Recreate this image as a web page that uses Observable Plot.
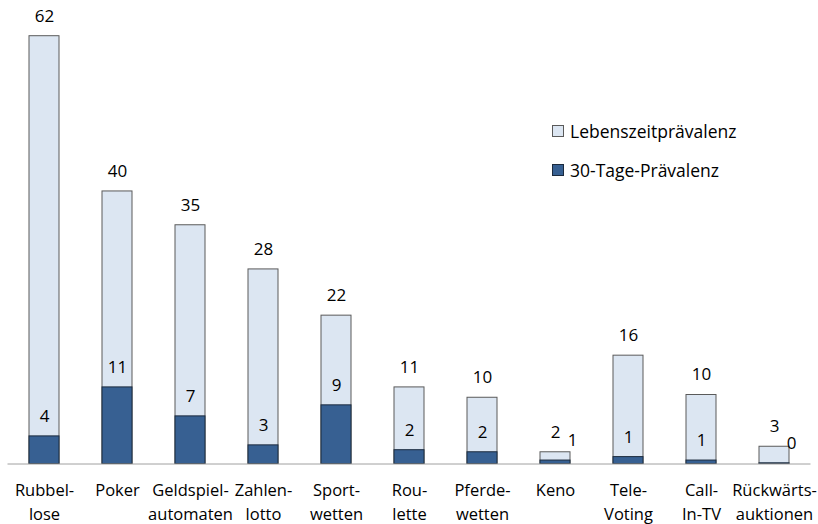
<!DOCTYPE html>
<html>
<head>
<meta charset="utf-8">
<script src="https://cdn.jsdelivr.net/npm/d3@7"></script>
<script src="https://cdn.jsdelivr.net/npm/@observablehq/plot@0.6"></script>
<style>
  html, body { margin: 0; padding: 0; background: #fff; }
  #wrap { position: relative; width: 818px; height: 524px; font-family: "Open Sans", Lato, sans-serif; }
  #legend { position: absolute; left: 552px; top: 119px; font-size: 17.5px; color: #000; }
  .item { display: flex; align-items: center; height: 24px; margin-bottom: 15px; }
  .sw { width: 12px; height: 12px; box-sizing: border-box; border: 1px solid; margin-right: 6px; }
</style>
</head>
<body>
<div id="wrap"><div id="legend"></div></div>
<script>
const categories = ["Rubbel-\nlose", "Poker", "Geldspiel-\nautomaten", "Zahlen-\nlotto", "Sport-\nwetten", "Rou-\nlette", "Pferde-\nwetten", "Keno", "Tele-\nVoting", "Call-\nIn-TV", "Rückwärts-\nauktionen"];
const lifetime = [62, 39.5, 34.6, 28.2, 21.5, 11.1, 9.6, 1.7, 15.7, 10.0, 2.5];
const thirtyDay = [4.0, 11.1, 6.9, 2.7, 8.5, 2.0, 1.7, 0.5, 1.0, 0.5, 0.1];
const seriesNames = ["Lebenszeitprävalenz", "30-Tage-Prävalenz"];
const fills = ["#dce6f2", "#376092"];
const strokes = ["#5a5a5a", "#1b2a3d"];

const life = categories.map((c, i) => ({cat: c, v: lifetime[i]}));
const month = categories.map((c, i) => ({cat: c, v: thirtyDay[i], life: lifetime[i]}));

const font = "'Open Sans', Lato, sans-serif";
const fs = 17;
const axisFs = 16.5;
const chart = Plot.plot({
  width: 818,
  height: 524,
  marginTop: 35.7,
  marginBottom: 60.5,
  marginLeft: 7.5,
  marginRight: 7.5,
  style: {fontFamily: font, fontSize: fs + "px", color: "#000", background: "transparent", overflow: "visible"},
  x: {domain: categories, paddingInner: 0.59, paddingOuter: 0.295, label: null, axis: null},
  y: {domain: [0, 62], label: null, axis: null},
  marks: [
    Plot.barY(life, {x: "cat", y: "v", fill: fills[0], stroke: strokes[0], strokeWidth: 1}),
    Plot.barY(month, {x: "cat", y: "v", fill: fills[1], stroke: strokes[1], strokeWidth: 1}),
    Plot.ruleY([0], {stroke: "#a0a0a0", strokeWidth: 1}),
    Plot.text(life, {x: "cat", y: "v", text: d => String(Math.round(d.v)), dy: -20, fontSize: fs, fill: "#000"}),
    Plot.text(month, {x: "cat", y: "v", text: d => String(Math.round(d.v)), dy: -20, fontSize: fs, fill: "#000",
      filter: d => d.life - d.v >= 3}),
    Plot.text(month, {x: "cat", y: "v", text: d => String(Math.round(d.v)), dy: -20, dx: 17, fontSize: fs, fill: "#000",
      filter: d => d.life - d.v < 3}),
    Plot.text(categories, {x: d => d, text: d => d, frameAnchor: "bottom", lineAnchor: "top", dy: 15, lineHeight: 1.45, fontSize: axisFs, fill: "#000"})
  ]
});
document.getElementById("wrap").prepend(chart);

const legend = document.getElementById("legend");
seriesNames.forEach((n, i) => {
  const item = document.createElement("div");
  item.className = "item";
  const sw = document.createElement("div");
  sw.className = "sw";
  sw.style.background = fills[i];
  sw.style.borderColor = strokes[i];
  const t = document.createElement("span");
  t.textContent = n;
  item.append(sw, t);
  legend.append(item);
});
</script>
</body>
</html>
